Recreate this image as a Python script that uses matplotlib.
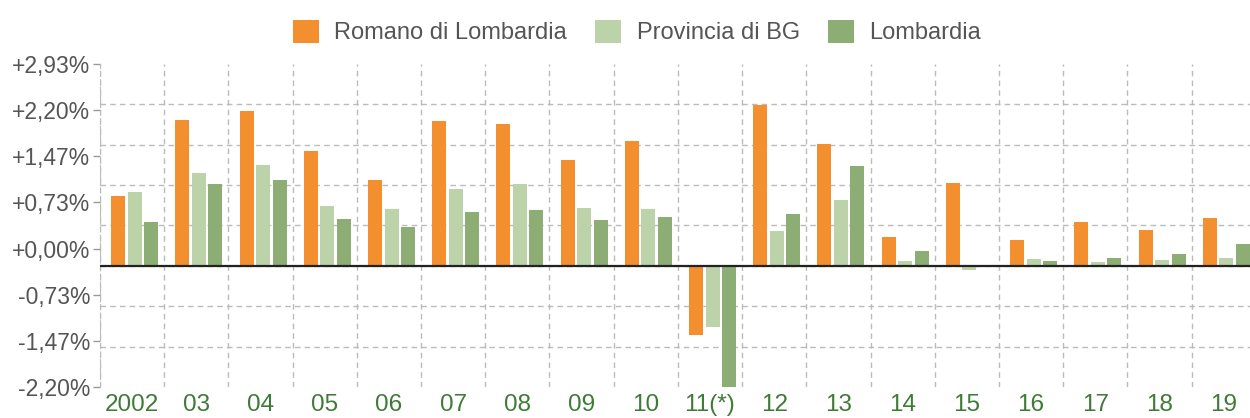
import numpy as np
import matplotlib
matplotlib.use("Agg")
import matplotlib.pyplot as plt
from matplotlib.ticker import FixedLocator

# Data (yearly population change, %)
YEARS = ["2002", "03", "04", "05", "06", "07", "08", "09", "10", "11(*)",
         "12", "13", "14", "15", "16", "17", "18", "19"]
SERIES = ["Romano di Lombardia", "Provincia di BG", "Lombardia"]
ROMANO = [1.11, 2.32, 2.46, 1.83, 1.37, 2.30, 2.26, 1.68, 1.99, -1.10,
          2.56, 1.94, 0.46, 1.32, 0.41, 0.70, 0.57, 0.76]
PROVINCIA = [1.18, 1.48, 1.60, 0.95, 0.91, 1.22, 1.30, 0.92, 0.91, -0.97,
             0.56, 1.05, 0.08, -0.06, 0.11, 0.06, 0.10, 0.13]
LOMBARDIA = [0.70, 1.30, 1.37, 0.75, 0.62, 0.86, 0.89, 0.73, 0.78, -1.95,
             0.83, 1.59, 0.24, -0.02, 0.08, 0.13, 0.19, 0.35]
Y_LABELS = ["+2,93%", "+2,20%", "+1,47%", "+0,73%", "+0,00%",
            "-0,73%", "-1,47%", "-2,20%"]

COLORS = ["#F48F2F", "#BCD3A9", "#8CAD74"]
YMIN, YMAX = -2.20, 2.93

plt.rcParams["font.family"] = ["Liberation Sans", "DejaVu Sans"]

fig = plt.figure(figsize=(12.5, 4.18), dpi=100)
ax = fig.add_axes([0.08, 0.0742, 0.92, 0.7727])

x = np.arange(len(YEARS))
grid_y = np.linspace(YMIN, YMAX, 9)
base = grid_y[3]
width = 0.218
for k, (name, vals) in enumerate(zip(SERIES, [ROMANO, PROVINCIA, LOMBARDIA])):
    ax.bar(x + 0.04 + (k - 1) * 0.257, vals, width=width, bottom=base,
           color=COLORS[k], label=name, zorder=3)

ax.axhline(base, color="#222222", lw=1.6, zorder=4)

ax.set_xlim(-0.5, 17.41)
ax.set_ylim(YMIN, YMAX)

# label ticks
ax.set_yticks(np.linspace(YMAX, YMIN, len(Y_LABELS)))
ax.set_yticklabels(Y_LABELS, fontsize=16.5, color="#555555")
ax.tick_params(axis="y", which="major", length=5, width=1, color="#999999", pad=2)
ax.set_xticks(x)
ax.set_xticklabels(YEARS, fontsize=17.5, color="#3E7B36")
ax.tick_params(axis="x", which="major", length=0, pad=5)

# dashed grid on minor positions
ax.yaxis.set_minor_locator(FixedLocator(grid_y))
ax.xaxis.set_minor_locator(FixedLocator(np.arange(-0.5, len(YEARS), 1.0)))
ax.tick_params(which="minor", length=0)
ax.grid(which="minor", color="#BBBBBB", linestyle=(0, (4, 3)), lw=1, zorder=0)
ax.grid(which="major", visible=False)

for s in ["top", "right", "bottom"]:
    ax.spines[s].set_visible(False)
ax.spines["left"].set_color("#BBBBBB")
ax.spines["left"].set_linestyle((0, (4, 3)))

ax.legend(loc="center", bbox_to_anchor=(0.467, 1.099), ncol=3, frameon=False,
          fontsize=17, handlelength=1.1, handleheight=1.1,
          handletextpad=0.65, columnspacing=1.2, labelcolor="#555555")

fig.savefig("out.png", dpi=100)
